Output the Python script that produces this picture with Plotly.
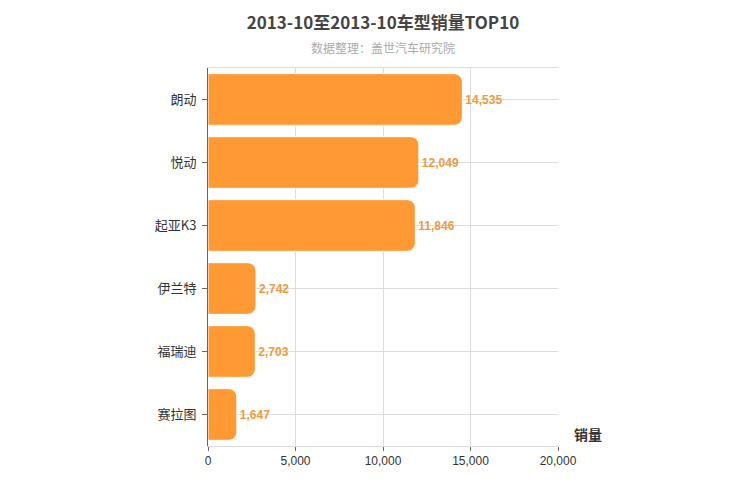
import plotly.graph_objects as go

models = ["朗动", "悦动", "起亚K3", "伊兰特", "福瑞迪", "赛拉图"]
sales = [14535, 12049, 11846, 2742, 2703, 1647]
x_ticks = [0, 5000, 10000, 15000, 20000]

fig = go.Figure()
fig.add_trace(go.Bar(
    y=models,
    x=sales,
    orientation="h",
    marker=dict(color="#FF9933", cornerradius=8, line=dict(color="white", width=1)),
    text=[f"<b>{v:,}</b>" for v in sales],
    textposition="outside",
    textfont=dict(color="#F09A3E", size=12, family="Liberation Sans, Arial"),
    cliponaxis=False,
))

fig.update_layout(
    width=750, height=500,
    margin=dict(l=200, r=200, t=60, b=62, autoexpand=False),
    plot_bgcolor="white", paper_bgcolor="white",
    font=dict(family="Noto Sans CJK SC, sans-serif", color="#333"),
    title=dict(text="<b>2013-10至2013-10车型销量TOP10</b>", x=0.5, xanchor="center",
               y=0.97, yanchor="middle", font=dict(size=17, color="#444")),
    bargap=0.18,
    showlegend=False,
)
fig.add_annotation(text="数据整理：盖世汽车研究院", xref="paper", yref="paper", x=0.5, y=1.055,
                   yanchor="middle", showarrow=False, font=dict(size=12, color="#aaa"))
fig.add_annotation(text="<b>销量</b>", xref="paper", yref="paper", x=1.04, y=0.0, yanchor="bottom",
                   xanchor="left", showarrow=False, font=dict(size=14, color="#333"))
fig.update_xaxes(range=[0, 20000], tickvals=x_ticks, tickformat=",", showgrid=True,
                 gridcolor="#ddd", mirror=True, showline=True, linecolor="#ddd",
                 ticks="outside", ticklen=4, tickcolor="#666",
                 tickfont=dict(size=12, color="#333", family="Liberation Sans, Arial"),
                 zeroline=False)
fig.update_yaxes(autorange="reversed", showgrid=True, gridcolor="#ddd", showline=True,
                 linecolor="#666", ticks="outside", ticklen=5, tickcolor="#666",
                 tickfont=dict(size=13, color="#333"), ticksuffix=" ")
fig.write_html("out.html")
